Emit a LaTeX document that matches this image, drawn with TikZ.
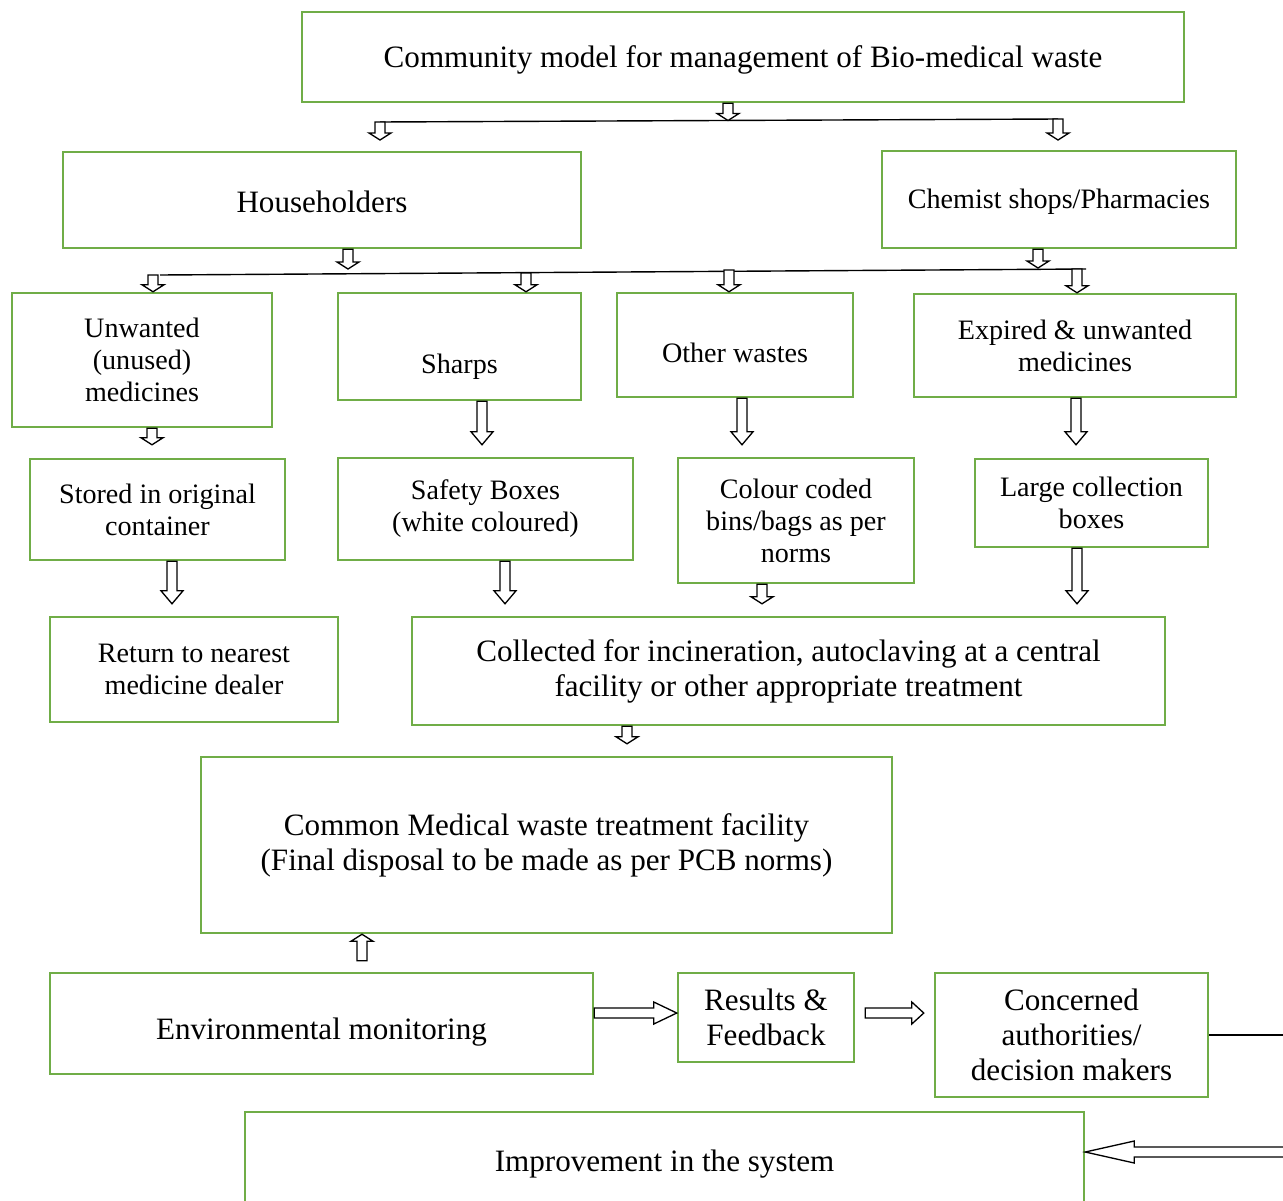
\documentclass[tikz,border=0pt]{standalone}
\usepackage{fontspec}
\setmainfont{Liberation Serif}
\usetikzlibrary{calc}
\definecolor{boxgreen}{RGB}{112,173,71}
\newcommand{\lowtext}[2]{\raisebox{-#1}[\height][\depth]{#2}}

\tikzset{
    box/.style={draw=boxgreen, line width=1.4pt, align=center, inner sep=0pt,
        font=\fontsize{16}{18.2}\selectfont},
    big/.style={font=\fontsize{17.7}{19.9}\selectfont},
    wh/.style 2 args={minimum width=#1*0.02cm, minimum height=#2*0.02cm},
    bus/.style={line width=0.8pt},
    % hollow block arrow, #1 = head length
    barrow/.style={draw=black, fill=white, line width=0.75pt, to path={
        let \p1=($(\tikztotarget)!#1!(\tikztostart)$) in
        ($(\tikztostart)!0.1cm!90:(\tikztotarget)$)
        -- ($(\p1)!0.1cm!90:(\tikztotarget)$)
        -- ($(\p1)!0.22cm!90:(\tikztotarget)$)
        -- (\tikztotarget)
        -- ($(\p1)!0.22cm!-90:(\tikztotarget)$)
        -- ($(\p1)!0.1cm!-90:(\tikztotarget)$)
        -- ($(\tikztostart)!0.1cm!-90:(\tikztotarget)$) -- cycle}},
    barrow/.default=0.14cm
}

\begin{document}
\begin{tikzpicture}[x=0.02cm, y=-0.02cm]
    \useasboundingbox (0,0) rectangle (1283,1200);

    % boxes
    \node[box, big, wh={882}{90}] (top) at (743,57) {\lowtext{0.05cm}{Community model for management of Bio-medical waste}};
    \node[box, big, wh={518}{96}] (house) at (322,200) {\lowtext{0.04cm}{Householders}};
    \node[box, wh={354}{97}] (chem) at (1059,199.5) {\lowtext{0.04cm}{Chemist shops/Pharmacies}};

    \node[box, wh={260}{134}] (unw) at (142,360) {Unwanted\\(unused)\\medicines};
    \node[box, wh={243}{107}] (sharps) at (459.5,346.5) {\lowtext{0.4cm}{Sharps}};
    \node[box, wh={236}{104}] (other) at (735,345) {\lowtext{0.16cm}{Other wastes}};
    \node[box, wh={322}{103}] (expired) at (1075,345.5) {Expired \& unwanted\\medicines};

    \node[box, wh={255}{101}] (stored) at (157.5,509.5) {Stored in original\\container};
    \node[box, wh={295}{102}] (safety) at (485.5,509) {Safety Boxes\\(white coloured)};
    \node[box, wh={236}{125}] (colour) at (796,520.5) {Colour coded\\bins/bags as per\\norms};
    \node[box, wh={233}{88}] (large) at (1091.5,503) {Large collection\\boxes};

    \node[box, wh={288}{105}] (ret) at (194,669.5) {Return to nearest\\medicine dealer};
    \node[box, big, wh={753}{108}] (coll) at (788.5,671) {Collected for incineration, autoclaving at a central\\facility or other appropriate treatment};
    \node[box, big, wh={691}{176}] (common) at (546.5,845) {Common Medical waste treatment facility\\(Final disposal to be made as per PCB norms)};

    \node[box, big, wh={543}{101}] (env) at (321.5,1023.5) {\lowtext{0.18cm}{Environmental monitoring}};
    \node[box, big, wh={176}{89}] (results) at (766,1017.5) {Results \&\\Feedback};
    \node[box, big, wh={273}{124}] (concern) at (1071.5,1035) {Concerned\\authorities/\\decision makers};
    \node[box, big, wh={839}{98}] (improve) at (664.5,1161) {\lowtext{0.06cm}{Improvement in the system}};

    % bus lines
    \coordinate (b1l) at (380,122);
    \coordinate (b1m) at (728,120.5);
    \coordinate (b1r) at (1058,119);
    \draw[bus] (b1l) -- (b1r);
    \coordinate (b2l) at (160,275);
    \coordinate (b2r) at (1086,269);
    \draw[bus] (b2l) -- (b2r);

    % arrows to the first level
    \draw[barrow] (top.south -| b1m) to (b1m);
    \draw[barrow] (b1l) to ($(b1l)+(0,18)$);
    \draw[barrow] (b1r) to ($(b1r)+(0,21)$);
    \draw[barrow] (house.south -| 348,0) to (348,269);
    \draw[barrow] (chem.south -| 1038,0) to (1038,268);
    \draw[barrow] (153,275) to (unw.north -| 153,0);
    \draw[barrow] (526,273) to (sharps.north -| 526,0);
    \draw[barrow] (729,270) to (other.north -| 729,0);
    \draw[barrow] (1077,269) to (expired.north -| 1077,0);

    % arrows between the levels
    \draw[barrow] (unw.south -| 152,0) to ($(stored.north -| 152,0)+(0,-13)$);
    \draw[barrow=0.26cm] (sharps.south -| 482,0) to ($(safety.north -| 482,0)+(0,-12)$);
    \draw[barrow=0.26cm] (other.south -| 742,0) to ($(colour.north -| 742,0)+(0,-12)$);
    \draw[barrow=0.26cm] (expired.south -| 1076,0) to ($(large.north -| 1076,0)+(0,-13)$);
    \draw[barrow=0.26cm] (stored.south -| 172,0) to ($(ret.north -| 172,0)+(0,-12)$);
    \draw[barrow=0.26cm] (safety.south -| 505,0) to ($(coll.north -| 505,0)+(0,-12)$);
    \draw[barrow] (colour.south -| 762,0) to ($(coll.north -| 762,0)+(0,-12)$);
    \draw[barrow=0.26cm] (large.south -| 1077,0) to ($(coll.north -| 1077,0)+(0,-12)$);
    \draw[barrow] (coll.south -| 627,0) to ($(common.north -| 627,0)+(0,-12)$);

    % monitoring loop
    \draw[barrow] ($(env.north -| 362,0)+(0,-11)$) to (common.south -| 362,0);
    \draw[barrow=0.46cm] (env.east |- 0,1013) to (results.west |- 0,1013);
    \draw[barrow=0.24cm] ($(results.east |- 0,1013)+(10,0)$) to ($(concern.west |- 0,1013)+(-10,0)$);
    \draw[bus] (concern.east) -- ++(100,0);
    \draw[barrow=0.98cm] (1300,1152) to (improve.east |- 0,1152);
\end{tikzpicture}
\end{document}
